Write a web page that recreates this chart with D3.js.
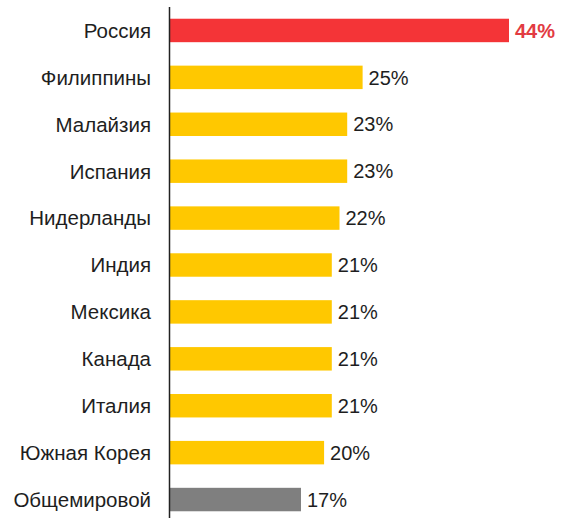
<!DOCTYPE html>
<html>
<head>
<meta charset="utf-8">
<script src="https://cdn.jsdelivr.net/npm/d3@7"></script>
<style>
  html, body { margin: 0; padding: 0; background: #fff; }
  svg { display: block; }
  text { font-family: "Liberation Sans", Arial, sans-serif; }
</style>
</head>
<body>
<svg id="chart" width="568" height="518"></svg>
<script>
// Share of respondents by country, percent
const countries = ["Россия", "Филиппины", "Малайзия", "Испания", "Нидерланды",
                   "Индия", "Мексика", "Канада", "Италия", "Южная Корея", "Общемировой"];
const shares = [44, 25, 23, 23, 22, 21, 21, 21, 21, 20, 17];
const kinds = ["highlight", "country", "country", "country", "country",
               "country", "country", "country", "country", "country", "world"];

const colors = { highlight: "#f43437", country: "#ffc800", world: "#7f7f7f" };
const labelColors = { highlight: "#e23b42", country: "#1e1e1e", world: "#1e1e1e" };

const rows = countries.map((c, i) => ({ name: c, value: shares[i], kind: kinds[i] }));

const svg = d3.select("#chart");
const axisX = 170;

const x = d3.scaleLinear().domain([0, 44]).range([axisX, 509]);
const y = d3.scaleBand().domain(countries).range([7, 523]).paddingInner(0.5).paddingOuter(0.25);

// bars
svg.selectAll("rect.bar").data(rows).join("rect")
  .attr("class", "bar")
  .attr("x", x(0))
  .attr("y", d => y(d.name))
  .attr("width", d => x(d.value) - x(0))
  .attr("height", y.bandwidth())
  .attr("fill", d => colors[d.kind]);

// category labels
svg.selectAll("text.cat").data(rows).join("text")
  .attr("class", "cat")
  .attr("x", 151)
  .attr("y", d => y(d.name) + y.bandwidth() / 2)
  .attr("dy", "0.36em")
  .attr("text-anchor", "end")
  .attr("font-size", 20.5)
  .attr("fill", "#1e1e1e")
  .text(d => d.name);

// value labels
svg.selectAll("text.val").data(rows).join("text")
  .attr("class", "val")
  .attr("x", d => x(d.value) + 6)
  .attr("y", d => y(d.name) + y.bandwidth() / 2)
  .attr("dy", "0.36em")
  .attr("font-size", 20)
  .attr("font-weight", d => d.kind === "highlight" ? "bold" : "normal")
  .attr("fill", d => labelColors[d.kind])
  .text(d => d.value + "%");

// vertical baseline
svg.append("line")
  .attr("x1", axisX - 0.5).attr("x2", axisX - 0.5)
  .attr("y1", 7).attr("y2", 518)
  .attr("stroke", "#222").attr("stroke-width", 1.5);
</script>
</body>
</html>
